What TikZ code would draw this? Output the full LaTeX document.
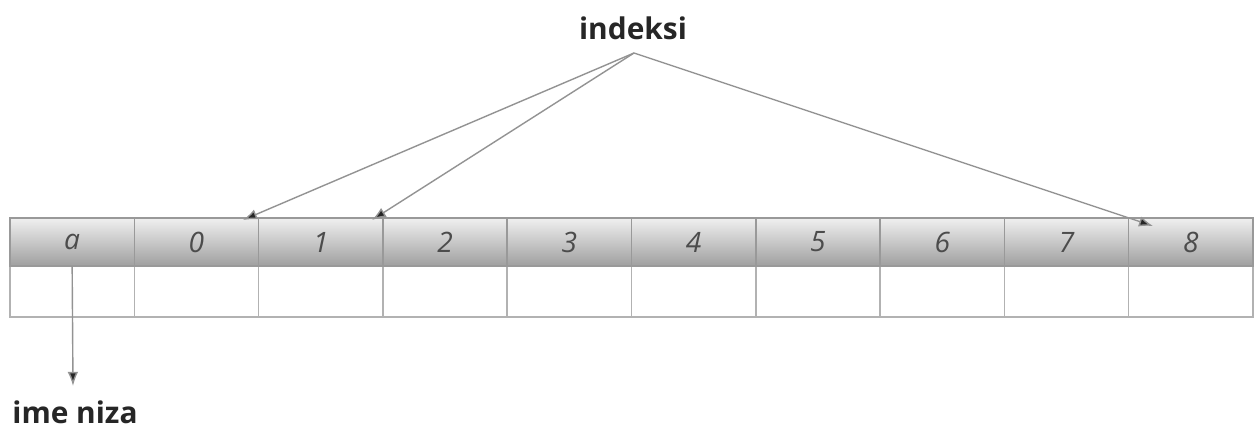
\documentclass[tikz,border=0pt]{standalone}
\usepackage{fontspec}
\setsansfont{Open Sans}
\usetikzlibrary{arrows.meta}
\begin{document}
\begin{tikzpicture}[x=0.02cm,y=-0.02cm,
    topcell/.style={draw=gray!80, line width=0.8pt, minimum width=2.486cm, minimum height=0.96cm,
      top color=gray!12, bottom color=gray!75, inner sep=0pt,
      font=\sffamily\itshape\fontsize{16}{18}\selectfont, text=black!70},
    lowcell/.style={draw=gray!60, line width=0.8pt, minimum width=2.486cm, minimum height=1.02cm, inner sep=0pt},
    label/.style={font=\sffamily\bfseries\fontsize{17}{20}\selectfont, text=black!85},
    pointer/.style={draw=gray!85, line width=0.8pt, -{Latex[length=8pt,width=6pt,fill=black!85]}}]
  \useasboundingbox (0,0) rectangle (1256,432);
  % Array cells
  \foreach \lab [count=\i from 0] in {a,0,1,2,3,4,5,6,7,8} {
    \node[lowcell] (b\i) at (72.15+124.3*\i,291.5) {};
    \node[topcell] (t\i) at (72.15+124.3*\i,242) {\lab};
  }
  % Labels
  \node[label] (idx) at (633,28) {indeksi};
  \node[label] (ime) at (75,412) {ime niza};
  % Pointers
  \coordinate (src) at (634,53);
  \coordinate (tipA) at (243,220);
  \coordinate (tipB) at (372,220);
  \coordinate (tipC) at (1153,226);
  \coordinate (imetip) at (73,386);
  \draw[pointer] (src) -- (tipA);
  \draw[pointer] (src) -- (tipB);
  \draw[pointer] (src) -- (tipC);
  \draw[pointer] (t0.south) -- (imetip);
\end{tikzpicture}
\end{document}
